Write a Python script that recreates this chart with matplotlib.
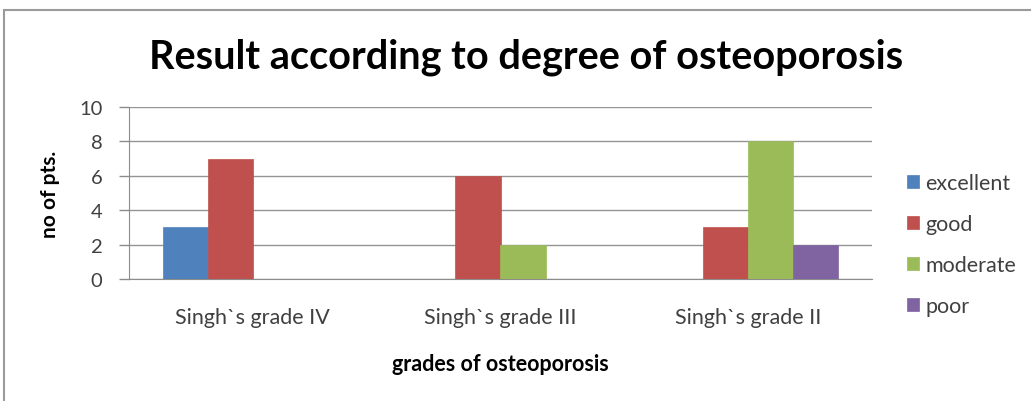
import matplotlib
matplotlib.use("Agg")
import matplotlib.pyplot as plt
import numpy as np
from matplotlib.patches import Rectangle

categories = ["Singh`s grade IV", "Singh`s grade III", "Singh`s grade II"]
series_names = ["excellent", "good", "moderate", "poor"]
excellent = [3, 0, 0]
good = [7, 6, 3]
moderate = [0, 2, 8]
poor = [0, 0, 2]
yticks = [0, 2, 4, 6, 8, 10]
colors = ["#4F81BD", "#C0504D", "#9BBB59", "#8064A2"]

plt.rcParams['font.family'] = ['Lato', 'DejaVu Sans']

W, H = 1031, 402
fig = plt.figure(figsize=(W / 100, H / 100), dpi=100)
ax = fig.add_axes([129 / W, 1 - 280 / H, (872 - 129) / W, (280 - 108) / H])

values = [excellent, good, moderate, poor]
x = np.arange(len(categories))
bw = 1 / 5.5
for i, (name, vals, c) in enumerate(zip(series_names, values, colors)):
    ax.bar(x + (i - 1.5) * bw, vals, width=bw, color=c, label=name,
           edgecolor=c, linewidth=0.5, zorder=3)

ax.set_xlim(-0.5, len(categories) - 0.5)
ax.set_ylim(0, 10)
ax.set_yticks(yticks)
ax.set_yticklabels([str(t) for t in yticks], fontsize=14.5, color="#404040")
ax.set_xticks(x)
ax.set_xticklabels(categories, fontsize=15.5, color="#404040")
ax.tick_params(axis='x', length=0, pad=20)
ax.tick_params(axis='y', length=7, width=1, color="#8c8c8c", pad=12)
ax.yaxis.grid(True, color="#949494", linewidth=1, zorder=0)
for s in ["top", "right"]:
    ax.spines[s].set_visible(False)
ax.spines["left"].set_color("#8c8c8c")
ax.spines["bottom"].set_color("#8c8c8c")

ax.set_ylabel("no of pts.", fontsize=15, fontweight="bold", labelpad=14)
ax.set_xlabel("grades of osteoporosis", fontsize=15.5, fontweight="bold", labelpad=19)

fig.text(526 / W, 1 - 57 / H, "Result according to degree of osteoporosis",
         ha="center", va="center", fontsize=28.5, fontweight="bold")

leg = ax.legend(loc="upper left", bbox_to_anchor=(907 / W, 1 - 174 / H),
                bbox_transform=fig.transFigure, frameon=False, fontsize=15.5,
                handlelength=0.55, handleheight=0.55, handletextpad=0.3,
                labelspacing=0.98, borderaxespad=0, borderpad=0)
for t in leg.get_texts():
    t.set_color("#404040")

fig.patches.append(Rectangle((4 / W, -0.05), 1.2, 1 - 10.5 / H + 0.05,
                             transform=fig.transFigure, fill=False,
                             edgecolor="#9a9a9a", linewidth=1.5))

fig.savefig("out.png", dpi=100)
